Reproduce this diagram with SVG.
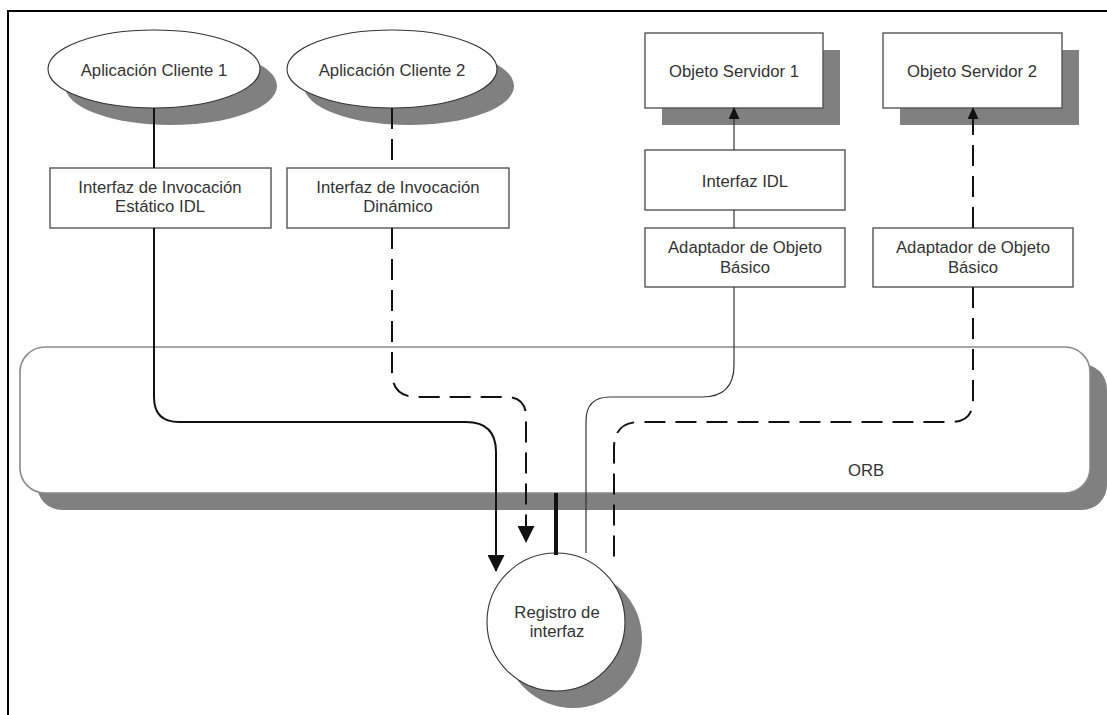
<svg xmlns="http://www.w3.org/2000/svg" width="1107" height="715" viewBox="0 0 1107 715">
<style>
  .shadow { fill: #808080; stroke: none; }
  .node { fill: #ffffff; stroke: #555555; stroke-width: 1.4; }
  .ell { fill: #ffffff; stroke: #333333; stroke-width: 1.1; }
  .orb { fill: #ffffff; stroke: #8a8a8a; stroke-width: 1.6; }
  .lbl { font-family: "Liberation Sans", Arial, sans-serif; font-size: 16.7px; fill: #333333; text-anchor: middle; }
  .solid { fill: none; stroke: #111111; stroke-width: 2; }
  .thin { fill: none; stroke: #333333; stroke-width: 1.2; }
  .dash { fill: none; stroke: #111111; stroke-width: 2; stroke-dasharray: 21 10; }
  .thick { fill: none; stroke: #111111; stroke-width: 4; }
  .frame { fill: none; stroke: #000000; stroke-width: 2; }
</style>
<defs>
  <marker id="bigArrow" markerUnits="userSpaceOnUse" markerWidth="17" markerHeight="17" refX="16" refY="8.5" orient="auto">
    <path d="M0,0 L17,8.5 L0,17 z" fill="#111111"/>
  </marker>
  <marker id="smallArrow" markerUnits="userSpaceOnUse" markerWidth="12" markerHeight="11" refX="11" refY="5.5" orient="auto">
    <path d="M0,0 L12,5.5 L0,11 z" fill="#111111"/>
  </marker>
</defs>

<rect x="0" y="0" width="1107" height="715" fill="#ffffff"/>
<path class="frame" d="M8,715 V11 H1107"/>

<g id="orb">
  <rect class="shadow" x="37" y="364" width="1070" height="146" rx="25"/>
  <rect class="orb" x="20" y="347" width="1070" height="146" rx="25"/>
  <text class="lbl" x="866" y="476">ORB</text>
</g>

<g id="cliente1">
  <ellipse class="shadow" cx="171" cy="86" rx="106" ry="39"/>
  <ellipse class="ell" cx="154" cy="69" rx="106" ry="39"/>
  <text class="lbl" x="154" y="76">Aplicación Cliente 1</text>
</g>

<g id="cliente2">
  <ellipse class="shadow" cx="409" cy="86" rx="105" ry="39"/>
  <ellipse class="ell" cx="392" cy="69" rx="105" ry="39"/>
  <text class="lbl" x="392" y="76">Aplicación Cliente 2</text>
</g>

<g id="servidor1">
  <rect class="shadow" x="662" y="50" width="178" height="75"/>
  <rect class="node" x="645" y="33" width="178" height="75"/>
  <text class="lbl" x="734" y="77">Objeto Servidor 1</text>
</g>

<g id="servidor2">
  <rect class="shadow" x="900" y="50" width="179" height="75"/>
  <rect class="node" x="883" y="33" width="179" height="75"/>
  <text class="lbl" x="972" y="77">Objeto Servidor 2</text>
</g>

<g id="estatico">
  <rect class="node" x="50" y="168" width="221" height="60"/>
  <text class="lbl" x="160" y="193">Interfaz de Invocación</text>
  <text class="lbl" x="160" y="212">Estático IDL</text>
</g>

<g id="dinamico">
  <rect class="node" x="287" y="168" width="222" height="60"/>
  <text class="lbl" x="398" y="193">Interfaz de Invocación</text>
  <text class="lbl" x="398" y="212">Dinámico</text>
</g>

<g id="interfazIDL">
  <rect class="node" x="645" y="150" width="200" height="60"/>
  <text class="lbl" x="745" y="187">Interfaz IDL</text>
</g>

<g id="adaptador1">
  <rect class="node" x="645" y="228" width="200" height="59"/>
  <text class="lbl" x="745" y="253">Adaptador de Objeto</text>
  <text class="lbl" x="745" y="273">Básico</text>
</g>

<g id="adaptador2">
  <rect class="node" x="873" y="228" width="200" height="59"/>
  <text class="lbl" x="973" y="253">Adaptador de Objeto</text>
  <text class="lbl" x="973" y="273">Básico</text>
</g>

<g id="registro">
  <circle class="shadow" cx="573" cy="639" r="69"/>
  <circle class="ell" cx="556" cy="622" r="69"/>
  <text class="lbl" x="557" y="618">Registro de</text>
  <text class="lbl" x="557" y="637">interfaz</text>
</g>

<g id="connectors">
  <path class="solid" d="M154,108 V168"/>
  <path class="solid" d="M154,228 V397 Q154,422 179,422 H466 Q496,422 496,452 V571" marker-end="url(#bigArrow)"/>
  <path class="dash" d="M392,108 V168"/>
  <path class="dash" d="M392,228 V372 Q392,397 417,397 H506 Q526,397 526,417 V542" marker-end="url(#bigArrow)"/>
  <path class="thin" d="M734,150 V108" marker-end="url(#smallArrow)"/>
  <path class="thin" d="M734,210 V228"/>
  <path class="thin" d="M734,287 V365 Q734,397 702,397 H610 Q586,397 586,421 V553"/>
  <path class="dash" d="M973,228 V108" marker-end="url(#smallArrow)"/>
  <path class="dash" d="M973,287 V400 Q973,422 951,422 H640 Q614,422 614,448 V560"/>
  <path class="thick" d="M556,493 V555"/>
</g>
</svg>
